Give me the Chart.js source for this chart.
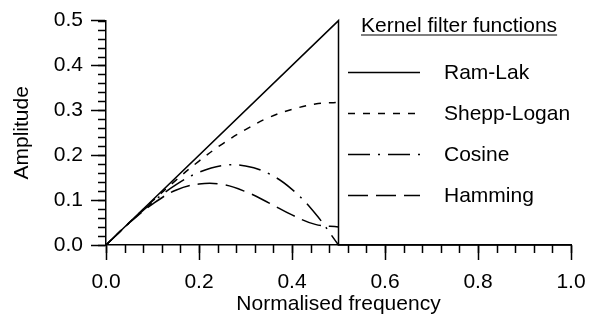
<!DOCTYPE html>
<html>
<head>
<meta charset="utf-8">
<script src="https://cdn.jsdelivr.net/npm/chart.js@4"></script>
<style>
  html, body { margin: 0; padding: 0; background: #fff; }
  #wrap { width: 602px; height: 321px; }
</style>
</head>
<body>
<div id="wrap"><canvas id="kernelChart" width="602" height="321"></canvas></div>
<script>
// --- Data ---
const seriesNames = ["Ram-Lak", "Shepp-Logan", "Cosine", "Hamming"];

// Ram-Lak: ramp, drop at 0.5, then zero
const ramLakX = [0, 0.5, 0.5, 1.0];
const ramLakY = [0, 0.5, 0, 0];

const curveX = [0, 0.05, 0.1, 0.15, 0.2, 0.25, 0.3, 0.35, 0.4, 0.45, 0.5];
const sheppLoganY = [0, 0.050, 0.098, 0.144, 0.187, 0.225, 0.257, 0.284, 0.302, 0.314, 0.318];
const cosineY = [0, 0.049, 0.095, 0.134, 0.162, 0.177, 0.176, 0.159, 0.124, 0.070, 0.0];
const hammingY = [0, 0.049, 0.091, 0.122, 0.136, 0.135, 0.119, 0.094, 0.067, 0.046, 0.040];

const xTickStep = 0.2;
const yTickStep = 0.1;
const xMinorStep = 0.04;
const yMinorStep = 0.02;

const FONT = '"Liberation Sans", Arial, Helvetica, sans-serif';
const FSIZE = 21;

function toPoints(xs, ys) {
    return xs.map((x, i) => ({ x: x, y: ys[i] }));
}

// --- Minor ticks + custom legend ---
const decorPlugin = {
    id: "decor",
    afterDraw(chart) {
        const c = chart.ctx;
        const xs = chart.scales.x;
        const ys = chart.scales.y;
        const area = chart.chartArea;

        c.save();
        c.strokeStyle = "#000";
        c.lineWidth = 1.5;
        c.beginPath();
        for (let v = 0; v <= 1.0001; v += xMinorStep) {
            const px = Math.round(xs.getPixelForValue(v)) + 0.5;
            c.moveTo(px, area.bottom);
            c.lineTo(px, area.bottom + 8);
        }
        for (let v = 0; v <= 0.5001; v += yMinorStep) {
            const py = Math.round(ys.getPixelForValue(v)) + 0.5;
            c.moveTo(area.left - 8, py);
            c.lineTo(area.left, py);
        }
        c.stroke();

        // legend
        c.fillStyle = "#000";
        c.font = FSIZE + "px " + FONT;
        c.textBaseline = "alphabetic";
        c.textAlign = "left";
        const title = "Kernel filter functions";
        c.fillText(title, 361, 32);
        const tw = c.measureText(title).width;
        c.lineWidth = 1.2;
        c.beginPath();
        c.moveTo(361, 35);
        c.lineTo(361 + tw, 35);
        c.stroke();

        const rowY = [72, 113, 154, 195];
        c.textBaseline = "middle";
        chart.data.datasets.forEach((ds, i) => {
            c.setLineDash(ds.borderDash || []);
            c.lineWidth = ds.borderWidth;
            c.beginPath();
            c.moveTo(348, rowY[i] + 0.5);
            c.lineTo(420, rowY[i] + 0.5);
            c.stroke();
            c.setLineDash([]);
            c.fillText(ds.label, 444, rowY[i] + 1);
        });
        c.restore();
    },
};

const ctx = document.getElementById("kernelChart").getContext("2d");

new Chart(ctx, {
    type: "line",
    data: {
        datasets: [
            {
                label: seriesNames[0],
                data: toPoints(ramLakX, ramLakY),
                borderColor: "#000",
                borderWidth: 1.5,
                tension: 0,
            },
            {
                label: seriesNames[1],
                data: toPoints(curveX, sheppLoganY),
                borderColor: "#000",
                borderWidth: 1.5,
                borderDash: [7, 8],
                tension: 0.4,
            },
            {
                label: seriesNames[2],
                data: toPoints(curveX, cosineY),
                borderColor: "#000",
                borderWidth: 1.5,
                borderDash: [22, 8, 2, 8],
                tension: 0.4,
            },
            {
                label: seriesNames[3],
                data: toPoints(curveX, hammingY),
                borderColor: "#000",
                borderWidth: 1.5,
                borderDash: [20, 8],
                tension: 0.4,
            },
        ],
    },
    options: {
        responsive: false,
        animation: false,
        clip: false,
        layout: {
            padding: { top: 15, right: 31, left: 0, bottom: 0 },
        },
        elements: {
            point: { radius: 0, hoverRadius: 0 },
            line: { fill: false },
        },
        plugins: {
            legend: { display: false },
            tooltip: { enabled: false },
        },
        scales: {
            x: {
                type: "linear",
                min: 0,
                max: 1.0,
                afterFit: (s) => { s.height = 76; },
                ticks: {
                    stepSize: xTickStep,
                    color: "#000",
                    font: { family: FONT, size: FSIZE },
                    padding: 10,
                    maxRotation: 0,
                    callback: (v) => v.toFixed(1),
                },
                grid: {
                    drawOnChartArea: false,
                    tickLength: 15,
                    tickColor: "#000",
                    tickWidth: 1.5,
                },
                border: { display: true, color: "#000", width: 1.5 },
                title: {
                    display: true,
                    text: "Normalised frequency",
                    color: "#000",
                    font: { family: FONT, size: FSIZE },
                    padding: { top: 0, bottom: 4 },
                },
            },
            y: {
                type: "linear",
                min: 0,
                max: 0.5,
                afterFit: (s) => { s.width = 106; },
                ticks: {
                    stepSize: yTickStep,
                    color: "#000",
                    font: { family: FONT, size: FSIZE },
                    padding: 8,
                    callback: (v) => v.toFixed(1),
                },
                grid: {
                    drawOnChartArea: false,
                    tickLength: 15,
                    tickColor: "#000",
                    tickWidth: 1.5,
                },
                border: { display: true, color: "#000", width: 1.5 },
                title: {
                    display: true,
                    text: "Amplitude",
                    color: "#000",
                    font: { family: FONT, size: FSIZE },
                    padding: { top: 10, bottom: 0 },
                },
            },
        },
    },
    plugins: [decorPlugin],
});
</script>
</body>
</html>
